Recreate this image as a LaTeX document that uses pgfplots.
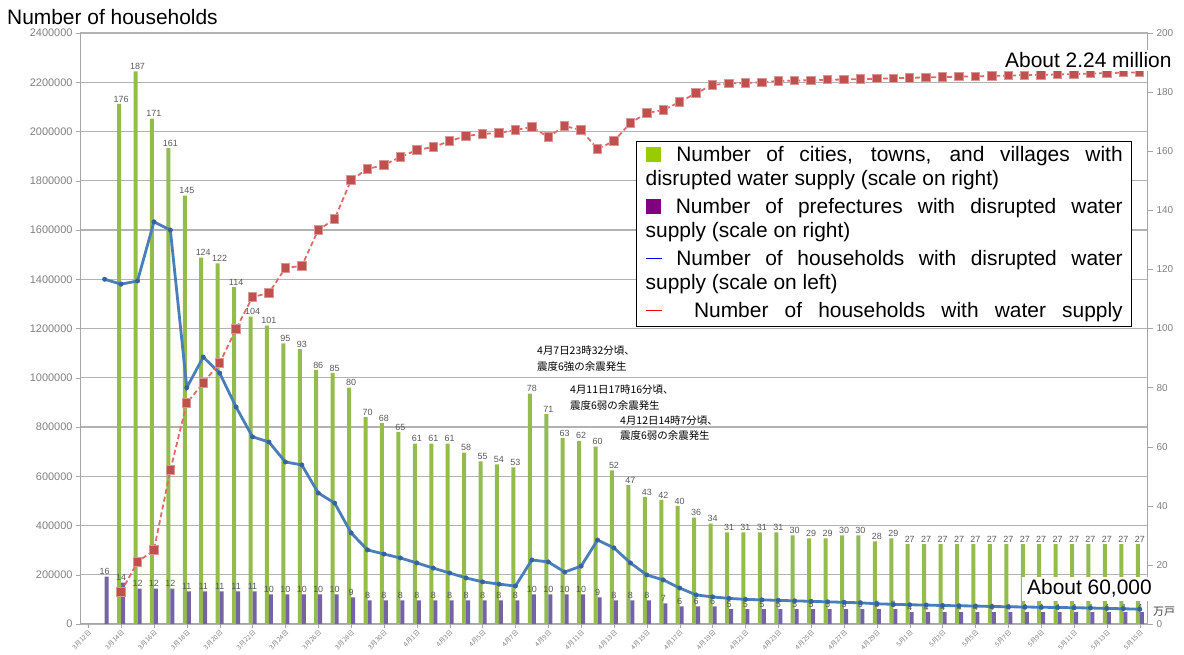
\documentclass[border=0pt]{standalone}
\usepackage{pgfplots}
\pgfplotsset{compat=1.18}
\usepackage{pgfplotstable}
\usepackage{fontspec}
\setmainfont{Liberation Sans}
\newfontfamily\jp{Noto Sans CJK JP}

\definecolor{barG}{HTML}{94BC4C}
\definecolor{barP}{HTML}{7464A6}
\definecolor{lineB}{HTML}{4A7EBB}
\definecolor{markB}{HTML}{36629E}
\definecolor{lineR}{HTML}{E06A6A}
\definecolor{markR}{HTML}{C0504D}
\definecolor{legG}{HTML}{99CC00}
\definecolor{legP}{HTML}{800080}
\definecolor{legB}{HTML}{0000FF}
\definecolor{legR}{HTML}{FF0000}

% c = day index (c = 0 is 12 March); purple = prefectures, green = municipalities,
% blue = households without water, red = households with water restored
\pgfplotstableread{
c  purple green blue    red
1  16     nan   1400000 nan
2  14     176   1380000 130000
3  12     187   1393000 252000
4  12     171   1633000 300000
5  12     161   1600000 625000
6  11     145   960000  897000
7  11     124   1084000 979000
8  11     122   1019000 1060000
9  11     114   881000  1198000
10 11     104   760000  1328000
11 10     101   739000  1344000
12 10     95    658000  1446000
13 10     93    646000  1454000
14 10     86    532000  1600000
15 10     85    491000  1645000
16 9      80    370000  1803000
17 8      70    301000  1848000
18 8      68    284000  1864000
19 8      65    268000  1896000
20 8      61    248000  1925000
21 8      61    227000  1937000
22 8      61    207000  1961000
23 8      58    187000  1982000
24 8      55    171000  1990000
25 8      54    162000  1994000
26 8      53    154000  2006000
27 10     78    260000  2018000
28 10     71    252000  1978000
29 10     63    211000  2022000
30 10     62    235000  2006000
31 9      60    341000  1929000
32 8      52    309000  1961000
33 8      47    248000  2035000
34 8      43    199000  2075000
35 7      42    179000  2087000
36 6      40    146000  2120000
37 6      36    118000  2156000
38 6      34    110000  2189000
39 5      31    104000  2195000
40 5      31    100000  2197000
41 5      31    98000   2200000
42 5      31    96000   2205000
43 5      30    94000   2207000
44 5      29    92000   2208000
45 5      29    90000   2210000
46 5      30    88000   2211000
47 5      30    86000   2213000
48 5      28    82000   2214000
49 5      29    80000   2216000
50 4      27    78000   2218000
51 4      27    77000   2219500
52 4      27    75000   2221000
53 4      27    74000   2222500
54 4      27    73000   2224000
55 4      27    71000   2225500
56 4      27    70000   2227000
57 4      27    69000   2228500
58 4      27    68000   2230000
59 4      27    67000   2231500
60 4      27    66000   2233000
61 4      27    65000   2235000
62 4      27    63000   2237000
63 4      27    62000   2239000
64 4      27    60000   2240000
}\water

\pgfplotsset{
  frame/.style={
    at={(80bp,31bp)}, anchor=south west,
    scale only axis, width=1068bp, height=591bp,
    xmin=-0.5, xmax=64.5,
    /pgf/number format/assume math mode=true,
  },
  barlabel/.style={
    nodes near coords,
    every node near coord/.append style={font=\fontsize{9}{10}\selectfont,
      text=black!65, inner sep=1.5bp},
  },
}

\begin{document}
\begin{tikzpicture}[x=1bp, y=1bp]

% left scale, grid and dates
\begin{axis}[frame,
  ymin=0, ymax=2400000,
  axis x line*=bottom, axis y line*=left,
  axis line style={gray!70, line width=1bp},
  ytick={0,200000,400000,600000,800000,1000000,1200000,1400000,1600000,1800000,2000000,2200000,2400000},
  ymajorgrids, grid style={gray!60, line width=1.2bp},
  xtick={0,2,...,64},
  xticklabels={3月12日,3月14日,3月16日,3月18日,3月20日,3月22日,3月24日,3月26日,3月28日,3月30日,
    4月1日,4月3日,4月5日,4月7日,4月9日,4月11日,4月13日,4月15日,4月17日,4月19日,4月21日,
    4月23日,4月25日,4月27日,4月29日,5月1日,5月3日,5月5日,5月7日,5月9日,5月11日,5月13日,5月15日},
  tick align=outside, major tick length=4bp, tick style={gray!70},
  scaled y ticks=false,
  yticklabel style={font=\fontsize{11}{12}\selectfont, text=gray,
    /pgf/number format/fixed, /pgf/number format/1000 sep={}},
  xticklabel style={font=\jp\fontsize{6.5}{8}\selectfont, text=gray, rotate=45,
    anchor=north east, inner sep=1bp},
]
\end{axis}

% bars on the right scale
\begin{axis}[frame,
  ymin=0, ymax=200,
  axis x line=none, axis y line*=right,
  axis line style={gray!70, line width=1bp},
  ytick={0,20,...,200},
  tick align=outside, major tick length=5bp, tick style={gray!70},
  yticklabel style={font=\fontsize{10}{12}\selectfont, text=gray},
]
\addplot[ybar, bar width=4bp, bar shift=-2bp, fill=barG, draw=none, barlabel]
  table[x=c, y=green]{\water};
\addplot[ybar, bar width=4bp, bar shift=2bp, fill=barP, draw=none, barlabel]
  table[x=c, y=purple]{\water};
\end{axis}

% household lines on the left scale
\begin{axis}[frame, ymin=0, ymax=2400000, hide axis, clip=false]
\addplot[lineB, line width=2.8bp, mark=*, mark size=2.2bp,
  mark options={fill=markB, draw=markB, line width=0.5bp}]
  table[x=c, y=blue]{\water};
\addplot[lineR, line width=1.8bp, dash pattern=on 5bp off 3bp, mark=square*, mark size=4.2bp,
  mark options={solid, fill=markR, draw=markR!60!white, line width=1bp}]
  table[x=c, y=red]{\water};
\end{axis}

% axis title and call-outs
\node[anchor=base west, inner sep=0] at (7,630) {\fontsize{21}{24}\selectfont Number of households};
\node[anchor=base west, fill=white, inner xsep=3bp, inner ysep=3bp] at (1002,587)
  {\fontsize{21}{24}\selectfont About 2.24 million};
\node[anchor=base west, fill=white, inner xsep=5bp, inner ysep=3bp] at (1022,60)
  {\fontsize{21}{24}\selectfont About 60,000};
\node[anchor=west, inner sep=0, text=black!75] at (1153,43) {\jp\fontsize{11}{12}\selectfont 万戸};

% aftershock notes
\begin{scope}[every node/.style={anchor=west, inner sep=0, font=\jp\fontsize{10.5}{12}\selectfont}]
\node at (537,304) {4月7日23時32分頃、};
\node at (537,288) {震度6強の余震発生};
\node at (570,265) {4月11日17時16分頃、};
\node at (570,249) {震度6弱の余震発生};
\node at (620,234) {4月12日14時7分頃、};
\node at (620,219) {震度6弱の余震発生};
\end{scope}

% legend
\node[draw, line width=1.4bp, fill=white, anchor=north west, inner xsep=9bp, inner ysep=5bp,
  text width=477bp, align=justify] at (636,514)
{\fontsize{21}{24}\selectfont\tolerance=10000\parskip=4bp
\textcolor{legG}{\rule{15bp}{15bp}} Number of cities, towns, and villages with\linebreak disrupted water supply (scale on right)\par
\textcolor{legP}{\rule{15bp}{15bp}} Number of prefectures with disrupted water\linebreak supply (scale on right)\par
\textcolor{legB}{\rule[6bp]{16bp}{1.3bp}} Number of households with disrupted water\linebreak supply (scale on left)\par
{\parfillskip=0pt \textcolor{legR}{\rule[6bp]{16bp}{1.3bp}}\ \ Number of households with water supply\par}};

% page frame
\pgfresetboundingbox
\path[use as bounding box] (0,0) rectangle (1184,655);
\end{tikzpicture}
\end{document}
